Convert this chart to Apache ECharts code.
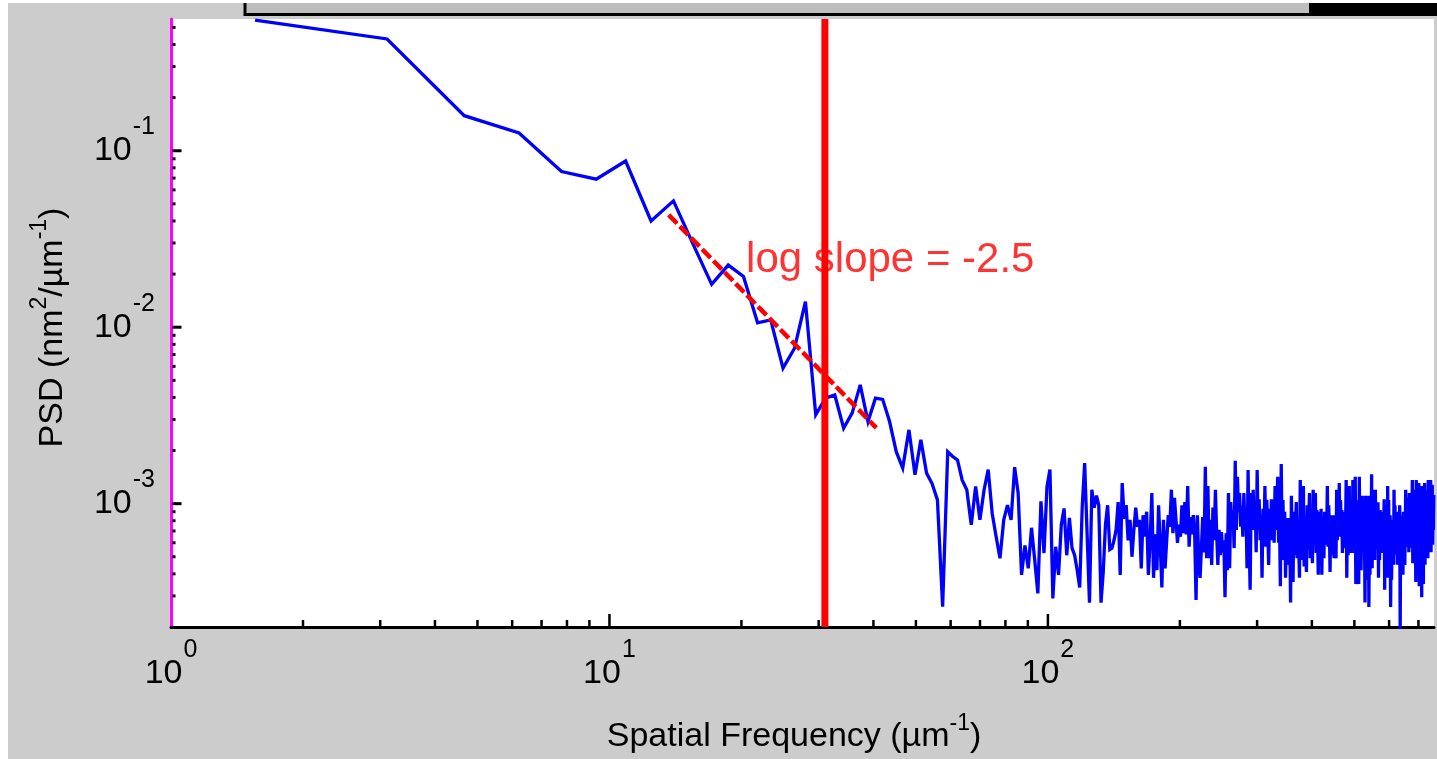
<!DOCTYPE html>
<html>
<head>
<meta charset="utf-8">
<script src="https://cdn.jsdelivr.net/npm/echarts/dist/echarts.min.js"></script>
<style>
html,body{margin:0;padding:0;background:#ffffff;}
#chart{width:1437px;height:759px;}
</style>
</head>
<body>
<div id="chart"></div>
<script>
// ---------------- data ----------------
const freqStep = 1.555;            // FFT bin spacing, µm^-1 (first bin = 1 step)
const psd = [
  0.55, 0.43, 0.158, 0.126, 0.0762, 0.069, 0.0875, 0.040, 0.052, 0.0292,
  0.0175, 0.0225, 0.0194, 0.0106, 0.0110, 0.00586, 0.0076, 0.01395, 0.00319, 0.00396,
  0.00413, 0.00268, 0.00326, 0.00471, 0.00292, 0.00396, 0.0039, 0.00292, 0.00197, 0.00159,
  0.00262, 0.00146, 0.0023, 0.00149, 0.0013, 0.00105, 0.000261, 0.00197, 0.00185, 0.00177,
  0.00136, 0.0012, 0.00076, 0.00125, 0.00081, 0.0012, 0.00156, 0.00088, 0.00065, 0.00049,
  0.00081, 0.00098, 0.00081, 0.00161, 0.00115, 0.000395, 0.00058, 0.00043, 0.00073, 0.00048,
  0.00031, 0.00103, 0.000525, 0.00125, 0.00156, 0.00029, 0.00057, 0.000395, 0.00076, 0.00094,
  0.00051, 8.3e-4, 5.6e-4, 5.1e-4, 4.2e-4, 3.35e-4, 9.5e-4, 1.70e-3, 6.8e-4, 2.75e-4,
  1.20e-3, 9.5e-4, 1.11e-3, 9.8e-4, 2.75e-4, 4.1e-4, 7.6e-4, 9.8e-4, 5.5e-4, 5.6e-4,
  6.2e-4, 7.1e-4, 1.02e-3, 3.95e-4, 1.31e-3, 8.2e-4, 9.8e-4, 6.2e-4, 8.1e-4, 5.0e-4,
  7.1e-4, 9.5e-4, 7.4e-4, 8.1e-4, 4.3e-4, 8.6e-4, 6.5e-4, 9.0e-4, 3.95e-4, 6.2e-4,
  1.15e-3, 3.8e-4, 6.7e-4, 4.2e-4, 9.8e-4, 5.85e-4, 3.35e-4, 8.1e-4, 4.3e-4, 6.2e-4,
  8.6e-4, 7.4e-4, 1.20e-3, 6.8e-4, 1.08e-3, 8.1e-4, 6.0e-4, 7.6e-4, 6.5e-4, 9.8e-4,
  6.8e-4, 1.02e-3, 6.7e-4, 1.26e-3, 5.7e-4, 8.4e-4, 6.7e-4, 8.6e-4, 6.8e-4, 2.85e-4,
  8.6e-4, 4.8e-4, 3.8e-4, 5.6e-4, 8.4e-4, 5.3e-4, 1.62e-3, 4.9e-4, 1.26e-3, 4.9e-4,
  8.1e-4, 4.5e-4, 9.5e-4, 6.2e-4, 1.20e-3, 6.8e-4, 4.5e-4, 7.1e-4, 5.1e-4, 6.9e-4,
  5.3e-4, 6.2e-4, 2.95e-4, 6.8e-4, 4.2e-4, 1.15e-3, 4.3e-4, 1.02e-3, 7.6e-4, 9.2e-4,
  5.6e-4, 1.75e-3, 7.1e-4, 1.42e-3, 9.0e-4, 1.15e-3, 7.4e-4, 9.8e-4, 6.5e-4, 1.15e-3,
  7.1e-4, 9.2e-4, 4.3e-4, 1.55e-3, 6.2e-4, 3.25e-4, 1.15e-3, 7.1e-4, 1.20e-3, 7.1e-4,
  9.8e-4, 5.3e-4, 1.55e-3, 7.1e-4, 1.06e-3, 6.2e-4, 8.6e-4, 3.8e-4, 9.35e-4, 5.85e-4,
  1.26e-3, 5.7e-4, 1.05e-3, 7.1e-4, 4.5e-4, 9.35e-4, 6.2e-4, 1.06e-3, 6.2e-4, 8.6e-4,
  6.0e-4, 1.26e-3, 7.1e-4, 9.8e-4, 1.42e-3, 6.0e-4, 8.1e-4, 3.4e-4, 1.68e-3, 6.2e-4,
  1.05e-3, 4.8e-4, 9.0e-4, 3.8e-4, 6.7e-4, 4.5e-4, 8.3e-4, 5.5e-4, 7.1e-4, 2.75e-4,
  1.11e-3, 5.85e-4, 3.6e-4, 9.0e-4, 5.1e-4, 7.1e-4, 1.02e-3, 4.9e-4, 8.1e-4, 5.85e-4,
  3.8e-4, 1.36e-3, 6.2e-4, 1.05e-3, 4.8e-4, 1.26e-3, 4.4e-4, 8.6e-4, 5.85e-4, 4.1e-4,
  9.8e-4, 5.5e-4, 7.6e-4, 1.15e-3, 4.9e-4, 8.6e-4, 6.2e-4, 4.6e-4, 1.20e-3, 5.85e-4,
  8.1e-4, 1.15e-3, 5.25e-4, 9.2e-4, 6.7e-4, 3.95e-4, 9.0e-4, 5.1e-4, 7.1e-4, 9.35e-4,
  3.95e-4, 7.6e-4, 5.5e-4, 4.9e-4, 9.0e-4, 5.85e-4, 8.1e-4, 6.7e-4, 1.26e-3, 5.7e-4,
  9.8e-4, 7.1e-4, 4.1e-4, 8.6e-4, 5.1e-4, 7.6e-4, 5.85e-4, 8.6e-4, 4.9e-4, 7.1e-4,
  6.2e-4, 4.9e-4, 1.20e-3, 6.2e-4, 9.2e-4, 7.1e-4, 1.31e-3, 6.5e-4, 1.05e-3, 7.6e-4,
  9.2e-4, 5.25e-4, 9.0e-4, 6.2e-4, 8.1e-4, 5.6e-4, 7.1e-4, 1.36e-3, 3.8e-4, 9.2e-4,
  5.1e-4, 7.1e-4, 1.26e-3, 5.25e-4, 9.8e-4, 6.2e-4, 8.1e-4, 5.25e-4, 1.36e-3, 6.7e-4,
  1.05e-3, 5.85e-4, 1.42e-3, 3.5e-4, 8.6e-4, 4.8e-4, 1.05e-3, 6.2e-4, 3.5e-4, 1.42e-3,
  5.5e-4, 9.8e-4, 4.2e-4, 7.6e-4, 1.11e-3, 5.25e-4, 8.6e-4, 6.2e-4, 7.6e-4, 2.75e-4,
  1.11e-3, 4.8e-4, 8.6e-4, 3.7e-4, 7.1e-4, 1.11e-3, 2.6e-4, 8.1e-4, 3.95e-4, 9.8e-4,
  5.5e-4, 1.47e-3, 4.3e-4, 1.05e-3, 5.85e-4, 1.20e-3, 7.1e-4, 4.8e-4, 1.20e-3, 6.2e-4,
  9.8e-4, 5.5e-4, 8.1e-4, 1.02e-3, 3.8e-4, 8.1e-4, 4.8e-4, 9.2e-4, 6.2e-4, 5.25e-4,
  9.0e-4, 6.2e-4, 8.1e-4, 5.6e-4, 7.1e-4, 1.06e-3, 3.25e-4, 8.6e-4, 4.5e-4, 9.8e-4,
  5.85e-4, 3.8e-4, 1.26e-3, 5.5e-4, 1.05e-3, 4.5e-4, 8.1e-4, 8.6e-4, 2.6e-4, 7.1e-4,
  3.7e-4, 8.1e-4, 5.1e-4, 6.7e-4, 4.5e-4, 1.20e-3, 5.85e-4, 9.8e-4, 5.1e-4, 8.6e-4,
  6.7e-4, 9.0e-4, 4.5e-4, 7.6e-4, 5.5e-4, 8.3e-4, 6.2e-4, 9.8e-4, 1.95e-4, 7.1e-4,
  4.5e-4, 8.6e-4, 5.5e-4, 7.6e-4, 3.95e-4, 9.0e-4, 5.1e-4, 7.6e-4, 4.5e-4, 6.7e-4,
  1.20e-3, 5.7e-4, 9.8e-4, 6.7e-4, 1.08e-3, 6.2e-4, 8.6e-4, 5.3e-4, 1.15e-3, 6.2e-4,
  9.2e-4, 5.6e-4, 1.05e-3, 7.1e-4, 8.1e-4, 1.36e-3, 4.6e-4, 1.05e-3, 5.85e-4, 1.20e-3,
  5.1e-4, 8.6e-4, 6.7e-4, 3.6e-4, 1.36e-3, 4.8e-4, 1.05e-3, 4.2e-4, 8.1e-4, 5.85e-4,
  1.31e-3, 3.4e-4, 9.2e-4, 4.5e-4, 1.12e-3, 3.95e-4, 7.1e-4, 2.95e-4, 1.26e-3, 4.2e-4,
  9.8e-4, 3.5e-4, 8.1e-4, 5.5e-4, 1.31e-3, 4.5e-4, 1.05e-3, 5.85e-4, 1.20e-3, 5.1e-4,
  8.6e-4, 6.7e-4, 4.9e-4, 1.36e-3, 6.2e-4, 1.05e-3, 5.5e-4, 1.20e-3, 7.6e-4, 1.36e-3,
  5.3e-4, 1.05e-3, 6.2e-4, 1.28e-3, 5.85e-4, 9.2e-4, 7.1e-4, 1.12e-3
];
const xRange = [1, 759.6];
const yRange = [2.0e-4, 0.558];
const xMajorTicks = [10, 100];
const xMinorTicks = [2,3,4,5,6,7,8,9,20,30,40,50,60,70,80,90,200,300,400,500,600,700];
const yMajorTicks = [1e-3, 1e-2, 1e-1];
const yMinorTicks = [3e-4,4e-4,5e-4,6e-4,7e-4,8e-4,9e-4,
                     2e-3,3e-3,4e-3,5e-3,6e-3,7e-3,8e-3,9e-3,
                     2e-2,3e-2,4e-2,5e-2,6e-2,7e-2,8e-2,9e-2,
                     0.2,0.3,0.4,0.5];
const fitFreq = [13.65, 40.61];
const fitPsd = [0.04329, 0.002688];
const cutoffFreq = 31.0;
const slopeText = 'log slope = -2.5';
const slopeTextAt = [20.55, 0.01806];
const xTitle = '{a|Spatial Frequency (µm}{s|-1}{a|)}';
const yTitle = '{a|PSD (nm}{s|2}{a|/µm}{s|-1}{a|)}';

// ---------------- chart ----------------
const FONT = '"Liberation Sans", Arial, sans-serif';
const psdData = psd.map((v, i) => [(i + 1) * freqStep, v]);

function powLabel(v) {
  const l = Math.log10(v);
  const e = Math.round(l);
  if (Math.abs(l - e) > 1e-6) return '';
  return '{b|10}{s|' + e + '}';
}
const labelRich = {
  b: {fontFamily: FONT, fontSize: 34, color: '#000', lineHeight: 72, verticalAlign: 'middle'},
  s: {fontFamily: FONT, fontSize: 25, color: '#000', lineHeight: 28, verticalAlign: 'top', padding: [0, 0, 0, 1]}
};
const nameRich = {
  a: {fontFamily: FONT, fontSize: 34, color: '#000', lineHeight: 50, verticalAlign: 'middle'},
  s: {fontFamily: FONT, fontSize: 23, color: '#000', lineHeight: 26, verticalAlign: 'top'}
};

const xTickData = xMajorTicks.map(v => [v, yRange[0], 13]).concat(xMinorTicks.map(v => [v, yRange[0], 7]));
const yTickData = yMajorTicks.map(v => [xRange[0], v, 9]).concat(yMinorTicks.map(v => [xRange[0], v, 3]));

const chart = echarts.init(document.getElementById('chart'), null, {renderer: 'canvas'});
chart.setOption({
  animation: false,
  backgroundColor: '#cccccc',
  grid: {left: 171, top: 19, right: 0, bottom: 131.5, show: true, backgroundColor: '#ffffff', borderWidth: 0},
  graphic: [
    {type: 'rect', shape: {x: 0, y: 0, width: 8, height: 759}, style: {fill: '#ffffff'}, silent: true},
    {type: 'rect', shape: {x: 0, y: 0, width: 1437, height: 3}, style: {fill: '#ffffff'}, silent: true},
    {type: 'rect', shape: {x: 243.5, y: 3, width: 1193.5, height: 13}, style: {fill: '#000000'}, silent: true},
    {type: 'rect', shape: {x: 246.5, y: 3, width: 1062.5, height: 10}, style: {fill: '#bebebe'}, silent: true}
  ],
  xAxis: {
    type: 'log', logBase: 10, min: xRange[0], max: xRange[1],
    axisLine: {show: true, lineStyle: {color: '#000', width: 3}},
    axisTick: {show: false}, minorTick: {show: false}, splitLine: {show: false},
    axisLabel: {margin: 11, formatter: powLabel, rich: labelRich, showMinLabel: true, showMaxLabel: true},
    name: xTitle, nameLocation: 'middle', nameGap: 85,
    nameTextStyle: {rich: nameRich, padding: [0, 17, 0, 0]}
  },
  yAxis: {
    type: 'log', logBase: 10, min: yRange[0], max: yRange[1],
    axisLine: {show: true, lineStyle: {color: '#ff00ff', width: 3}},
    axisTick: {show: false}, minorTick: {show: false}, splitLine: {show: false},
    axisLabel: {margin: 16, formatter: powLabel, rich: labelRich},
    name: yTitle, nameLocation: 'middle', nameGap: 93,
    nameTextStyle: {rich: nameRich, padding: [0, 9, 0, 0]}
  },
  series: [
    {
      type: 'line', data: psdData, symbol: 'none', showSymbol: false,
      lineStyle: {color: '#0000ff', width: 3.3, join: 'miter', miterLimit: 4}, silent: true, z: 3
    },
    {
      type: 'line', data: [[fitFreq[0], fitPsd[0]], [fitFreq[1], fitPsd[1]]], symbol: 'none',
      lineStyle: {color: '#ff0000', width: 4.5, type: [12, 4]}, silent: true, z: 4
    },
    {
      type: 'line', data: [[cutoffFreq, yRange[0]], [cutoffFreq, yRange[1]]], symbol: 'none',
      lineStyle: {color: '#ff0000', width: 7}, silent: true, z: 5
    },
    {
      type: 'scatter', data: [slopeTextAt], symbolSize: 1, itemStyle: {color: 'rgba(0,0,0,0)'}, silent: true, z: 6,
      label: {show: true, formatter: slopeText, position: [0, 0], align: 'left', verticalAlign: 'bottom',
              fontFamily: FONT, fontSize: 42, color: '#ff0000'}
    },
    {
      type: 'custom', data: xTickData, silent: true, z: 7, clip: false,
      renderItem: function (params, api) {
        const p = api.coord([api.value(0), api.value(1)]);
        const len = api.value(2);
        return {type: 'rect', shape: {x: p[0] - 1.25, y: p[1] - len, width: 2.5, height: len}, style: {fill: '#000'}};
      }
    },
    {
      type: 'custom', data: yTickData, silent: true, z: 7, clip: false,
      renderItem: function (params, api) {
        const p = api.coord([api.value(0), api.value(1)]);
        const len = api.value(2);
        return {type: 'rect', shape: {x: p[0] + 1.5, y: p[1] - 1.5, width: len, height: 3}, style: {fill: '#000'}};
      }
    }
  ]
});
</script>
</body>
</html>
